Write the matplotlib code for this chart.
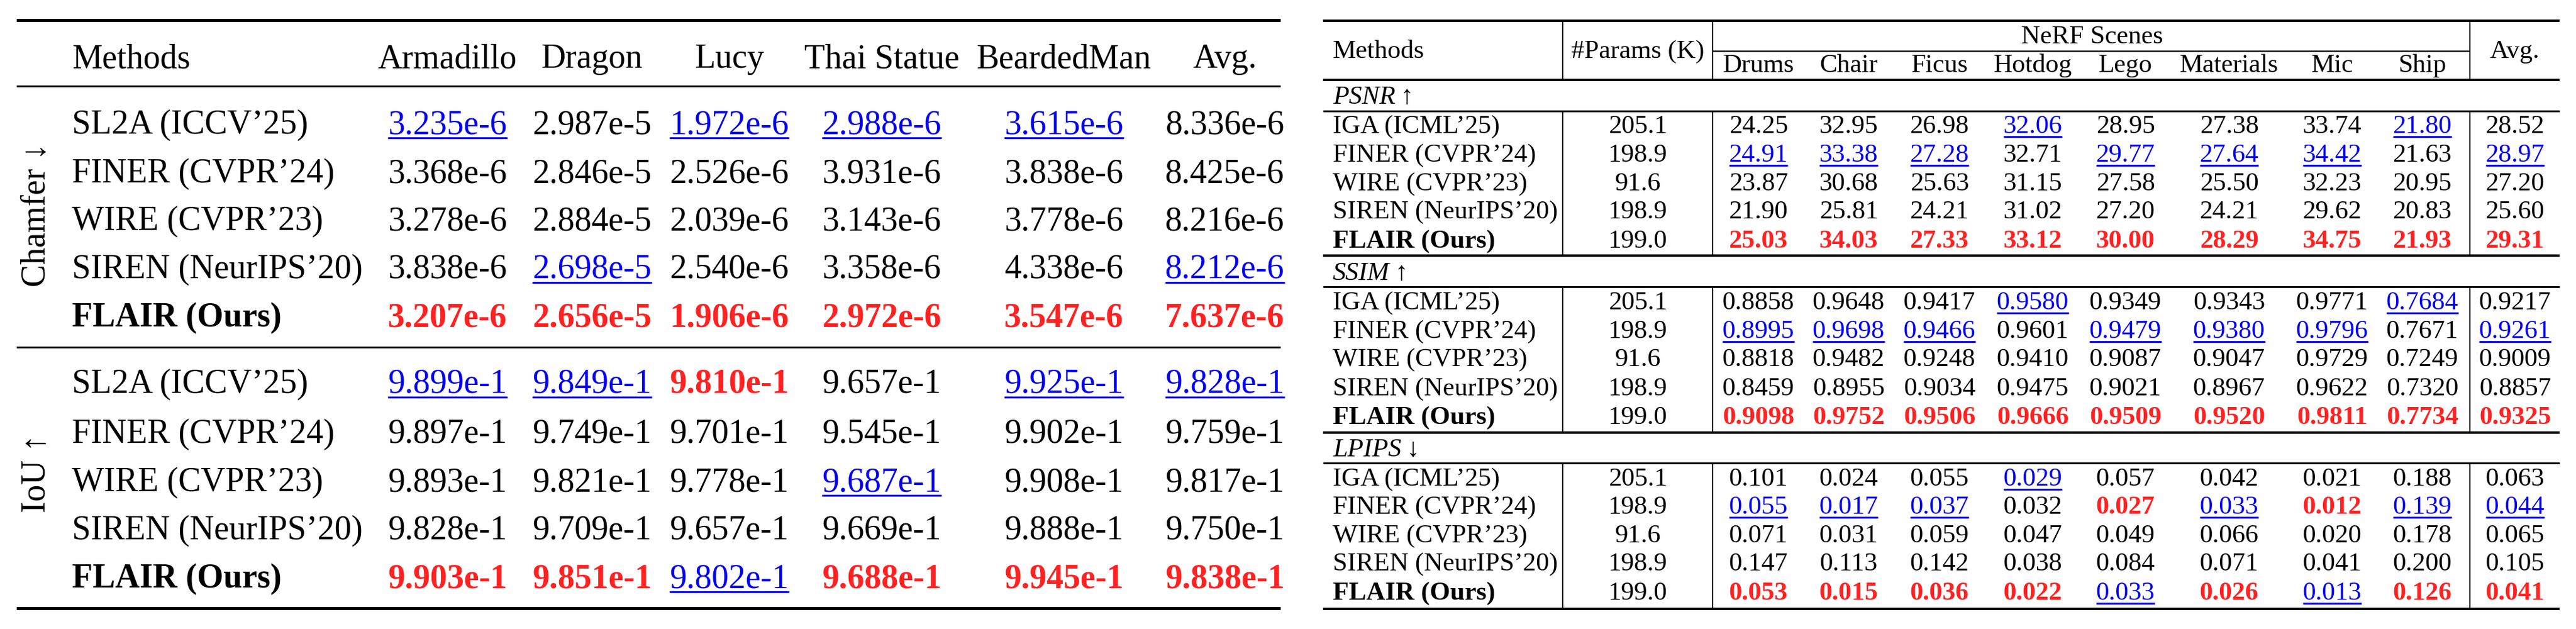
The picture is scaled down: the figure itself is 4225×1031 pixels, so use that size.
import matplotlib
matplotlib.use("Agg")
import matplotlib.pyplot as plt

FAM = ['Liberation Serif', 'DejaVu Serif']
RED = '#ff2222'
BLUE = '#0000ee'

# ---------------- data: left table ----------------
left_cols = ["Armadillo", "Dragon", "Lucy", "Thai Statue", "BeardedMan", "Avg."]
left_methods = ["SL2A (ICCV’25)", "FINER (CVPR’24)", "WIRE (CVPR’23)", "SIREN (NeurIPS’20)", "FLAIR (Ours)"]
chamfer_vals = [
    ["3.235e-6", "2.987e-5", "1.972e-6", "2.988e-6", "3.615e-6", "8.336e-6"],
    ["3.368e-6", "2.846e-5", "2.526e-6", "3.931e-6", "3.838e-6", "8.425e-6"],
    ["3.278e-6", "2.884e-5", "2.039e-6", "3.143e-6", "3.778e-6", "8.216e-6"],
    ["3.838e-6", "2.698e-5", "2.540e-6", "3.358e-6", "4.338e-6", "8.212e-6"],
    ["3.207e-6", "2.656e-5", "1.906e-6", "2.972e-6", "3.547e-6", "7.637e-6"],
]
chamfer_sty = ["unuuun", "nnnnnn", "nnnnnn", "nunnnu", "rrrrrr"]
iou_vals = [
    ["9.899e-1", "9.849e-1", "9.810e-1", "9.657e-1", "9.925e-1", "9.828e-1"],
    ["9.897e-1", "9.749e-1", "9.701e-1", "9.545e-1", "9.902e-1", "9.759e-1"],
    ["9.893e-1", "9.821e-1", "9.778e-1", "9.687e-1", "9.908e-1", "9.817e-1"],
    ["9.828e-1", "9.709e-1", "9.657e-1", "9.669e-1", "9.888e-1", "9.750e-1"],
    ["9.903e-1", "9.851e-1", "9.802e-1", "9.688e-1", "9.945e-1", "9.838e-1"],
]
iou_sty = ["uurnuu", "nnnnnn", "nnnunn", "nnnnnn", "rrurrr"]

# ---------------- data: right table ----------------
scenes = ["Drums", "Chair", "Ficus", "Hotdog", "Lego", "Materials", "Mic", "Ship"]
right_methods = ["IGA (ICML’25)", "FINER (CVPR’24)", "WIRE (CVPR’23)", "SIREN (NeurIPS’20)", "FLAIR (Ours)"]
params = ["205.1", "198.9", "91.6", "198.9", "199.0"]
psnr_vals = [
    ["24.25", "32.95", "26.98", "32.06", "28.95", "27.38", "33.74", "21.80", "28.52"],
    ["24.91", "33.38", "27.28", "32.71", "29.77", "27.64", "34.42", "21.63", "28.97"],
    ["23.87", "30.68", "25.63", "31.15", "27.58", "25.50", "32.23", "20.95", "27.20"],
    ["21.90", "25.81", "24.21", "31.02", "27.20", "24.21", "29.62", "20.83", "25.60"],
    ["25.03", "34.03", "27.33", "33.12", "30.00", "28.29", "34.75", "21.93", "29.31"],
]
psnr_sty = ["nnnunnnun", "uuunuuunu", "nnnnnnnnn", "nnnnnnnnn", "rrrrrrrrr"]
ssim_vals = [
    ["0.8858", "0.9648", "0.9417", "0.9580", "0.9349", "0.9343", "0.9771", "0.7684", "0.9217"],
    ["0.8995", "0.9698", "0.9466", "0.9601", "0.9479", "0.9380", "0.9796", "0.7671", "0.9261"],
    ["0.8818", "0.9482", "0.9248", "0.9410", "0.9087", "0.9047", "0.9729", "0.7249", "0.9009"],
    ["0.8459", "0.8955", "0.9034", "0.9475", "0.9021", "0.8967", "0.9622", "0.7320", "0.8857"],
    ["0.9098", "0.9752", "0.9506", "0.9666", "0.9509", "0.9520", "0.9811", "0.7734", "0.9325"],
]
ssim_sty = ["nnnunnnun", "uuunuuunu", "nnnnnnnnn", "nnnnnnnnn", "rrrrrrrrr"]
lpips_vals = [
    ["0.101", "0.024", "0.055", "0.029", "0.057", "0.042", "0.021", "0.188", "0.063"],
    ["0.055", "0.017", "0.037", "0.032", "0.027", "0.033", "0.012", "0.139", "0.044"],
    ["0.071", "0.031", "0.059", "0.047", "0.049", "0.066", "0.020", "0.178", "0.065"],
    ["0.147", "0.113", "0.142", "0.038", "0.084", "0.071", "0.041", "0.200", "0.105"],
    ["0.053", "0.015", "0.036", "0.022", "0.033", "0.026", "0.013", "0.126", "0.041"],
]
lpips_sty = ["nnnunnnnn", "uuunruruu", "nnnnnnnnn", "nnnnnnnnn", "rrrrururr"]

W, H = 4225, 1031
fig = plt.figure(figsize=(W / 100, H / 100), dpi=100)
ax = fig.add_axes([0, 0, 1, 1])
ax.set_xlim(0, W)
ax.set_ylim(H, 0)
ax.axis('off')

underlines = []


def txt(x, y, s, size, ha='center', sty='n', bold=False, italic=False, color='black'):
    if sty == 'r':
        color, bold = RED, True
    elif sty == 'u':
        color = BLUE
    t = ax.text(x, y, s, fontsize=size, ha=ha, va='baseline', family=FAM,
                fontweight='bold' if bold else 'normal',
                fontstyle='italic' if italic else 'normal', color=color)
    if sty == 'u':
        underlines.append((t, y, size, color))
    return t


def hline(x0, x1, y, px):
    ax.plot([x0, x1], [y, y], color='black', lw=px * 0.72, solid_capstyle='butt')


def vline(x, y0, y1, px):
    ax.plot([x, x], [y0, y1], color='black', lw=px * 0.72, solid_capstyle='butt')


# ---------------- left table ----------------
LS = 40
lcap = 19
lx0, lx1 = 27, 2100
hline(lx0, lx1, 33, 5)
hline(lx0, lx1, 141, 3)
hline(lx0, lx1, 569, 3)
hline(lx0, lx1, 997, 5)
lcx = [734, 971, 1196, 1446, 1745, 2009]
txt(118, 92 + lcap, "Methods", LS, ha='left')
for c, x in zip(left_cols, lcx):
    txt(x, 92 + lcap, c, LS)
ch_rows = [200, 280, 358, 437, 516]
iou_rows = [625, 707, 786, 865, 944]
for rows, vals, stys in [(ch_rows, chamfer_vals, chamfer_sty), (iou_rows, iou_vals, iou_sty)]:
    for i, y in enumerate(rows):
        txt(118, y + lcap, left_methods[i], LS, ha='left', bold=(i == 4))
        for j, x in enumerate(lcx):
            txt(x, y + lcap, vals[i][j], LS, sty=stys[i][j])
ax.text(60, 352, "Chamfer ↓", fontsize=LS, rotation=90, ha='center', va='center', family=FAM)
ax.text(60, 776, "IoU ↑", fontsize=LS, rotation=90, ha='center', va='center', family=FAM)

# ---------------- right table ----------------
RS = 31
rcap = 15
rx0, rx1 = 2170, 4198
v1, v2, v3 = 2563, 2809, 4051
hline(rx0, rx1, 34, 4)
hline(v2, v3, 84, 2.5)
hline(rx0, rx1, 131, 4)
txt(2186, 80 + rcap, "Methods", RS, ha='left')
txt(2686, 80 + rcap, "#Params (K)", RS)
txt(3431, 56 + rcap, "NeRF Scenes", RS)
txt(4125, 80 + rcap, "Avg.", RS)
scx = [2884, 3032, 3181, 3334, 3486, 3656, 3825, 3973, 4125]
for s, x in zip(scenes, scx):
    txt(x, 103 + rcap, s, RS)

blocks = [
    ("PSNR", "↑", 155, 182, [203, 250, 297, 343, 391], 419, psnr_vals, psnr_sty),
    ("SSIM", "↑", 444, 470, [492, 539, 585, 633, 680], 709, ssim_vals, ssim_sty),
    ("LPIPS", "↓", 733, 759, [781, 827, 874, 920, 968], 998, lpips_vals, lpips_sty),
]
for name, arrow, ty, r1, rows, r2, vals, stys in blocks:
    t = txt(2186, ty + rcap, name, RS, ha='left', italic=True)
    fig.canvas.draw()
    bb = t.get_window_extent()
    ax.text(bb.x1 + 8, ty + rcap, arrow, fontsize=RS, ha='left', va='baseline', family=FAM)
    hline(rx0, rx1, r1, 3)
    hline(rx0, rx1, r2, 4)
    for v in (v1, v2, v3):
        vline(v, r1, r2, 2)
    for i, y in enumerate(rows):
        txt(2186, y + rcap, right_methods[i], RS, ha='left', bold=(i == 4))
        txt(2686, y + rcap, params[i], RS)
        for j, x in enumerate(scx):
            txt(x, y + rcap, vals[i][j], RS, sty=stys[i][j])
for v in (v1, v2, v3):
    vline(v, 34, 131, 2)

fig.canvas.draw()
for t, y, size, color in underlines:
    bb = t.get_window_extent()
    off = 7 if size > 35 else 6
    ax.plot([bb.x0, bb.x1], [y + off, y + off], color=color, lw=2.2, solid_capstyle='butt')

fig.savefig("out.png", dpi=100)
